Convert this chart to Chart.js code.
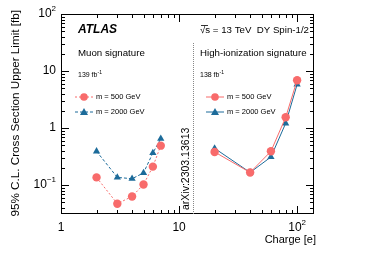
<!DOCTYPE html>
<html>
<head>
<meta charset="utf-8">
<script src="https://cdn.jsdelivr.net/npm/chart.js@4"></script>
<style>
  body { margin: 0; background: #fff; }
  canvas { display: block; }
</style>
</head>
<body>
<canvas id="limitChart" width="374" height="255"></canvas>
<script>
// data
const muonCharges = [2, 3, 4, 5, 6, 7];
const muon500 = [0.136, 0.047, 0.063, 0.102, 0.21, 0.49];
const muon2000 = [0.39, 0.136, 0.129, 0.163, 0.365, 0.65];
const hipCharges = [20, 40, 60, 80, 100];
const hip500 = [0.38, 0.166, 0.39, 1.54, 6.9];
const hip2000 = [0.44, 0.166, 0.31, 1.21, 5.8];
const xTicks = [1, 10, 100];
const yTicks = [0.1, 1, 10, 100];

const RED = '#f86b6b';
const BLUE = '#1c6b9a';
const FONT = '"Liberation Sans", Arial, sans-serif';

function pts(xs, ys) {
  return xs.map((x, i) => ({ x: x, y: ys[i] }));
}

function superLabel(ctx, base, exp, x, y, size, align) {
  ctx.font = size + 'px ' + FONT;
  const bw = ctx.measureText(base).width;
  ctx.font = Math.round(size * 0.7) + 'px ' + FONT;
  const ew = exp ? ctx.measureText(exp).width : 0;
  let x0 = x;
  if (align === 'right') x0 = x - bw - ew;
  else if (align === 'center') x0 = x - (bw + ew) / 2;
  ctx.textAlign = 'left';
  ctx.textBaseline = 'middle';
  ctx.font = size + 'px ' + FONT;
  ctx.fillText(base, x0, y);
  if (exp) {
    ctx.font = Math.round(size * 0.7) + 'px ' + FONT;
    ctx.fillText(exp, x0 + bw, y - size * 0.4);
  }
}

function legendRow(ctx, x, y, color, dash, style, text) {
  ctx.save();
  ctx.strokeStyle = color;
  ctx.lineWidth = 1;
  ctx.setLineDash(dash);
  ctx.beginPath();
  ctx.moveTo(x - 9, y);
  ctx.lineTo(x + 9, y);
  ctx.stroke();
  ctx.setLineDash([]);
  ctx.fillStyle = color;
  ctx.beginPath();
  if (style === 'circle') {
    ctx.arc(x, y, 3.8, 0, Math.PI * 2);
  } else {
    ctx.moveTo(x, y - 4);
    ctx.lineTo(x + 4, y + 3);
    ctx.lineTo(x - 4, y + 3);
    ctx.closePath();
  }
  ctx.fill();
  ctx.fillStyle = '#000';
  ctx.font = '7.5px ' + FONT;
  ctx.textAlign = 'left';
  ctx.textBaseline = 'middle';
  ctx.fillText(text, x + 12, y);
  ctx.restore();
}

const atlasDecor = {
  id: 'atlasDecor',
  afterDraw(chart) {
    const ctx = chart.ctx;
    const xs = chart.scales.x, ys = chart.scales.y;
    const a = chart.chartArea;
    ctx.save();
    // frame
    ctx.strokeStyle = '#000';
    ctx.lineWidth = 1;
    ctx.strokeRect(a.left + 0.5, a.top + 0.5, a.right - a.left - 1, a.bottom - a.top - 1);

    // inward log ticks
    for (let d = 0; d < 3; d++) {
      for (let m = 1; m < 10; m++) {
        const v = m * Math.pow(10, d);
        if (v < xs.min || v > xs.max) continue;
        const px = Math.round(xs.getPixelForValue(v)) + 0.5;
        const len = m === 1 ? 8 : 4;
        ctx.beginPath();
        ctx.moveTo(px, a.bottom); ctx.lineTo(px, a.bottom - len);
        ctx.moveTo(px, a.top); ctx.lineTo(px, a.top + len);
        ctx.stroke();
      }
    }
    for (let d = -2; d < 3; d++) {
      for (let m = 1; m < 10; m++) {
        const v = m * Math.pow(10, d);
        if (v < ys.min || v > ys.max) continue;
        const py = Math.round(ys.getPixelForValue(v)) + 0.5;
        const len = m === 1 ? 8 : 4;
        ctx.beginPath();
        ctx.moveTo(a.left, py); ctx.lineTo(a.left + len, py);
        ctx.moveTo(a.right, py); ctx.lineTo(a.right - len, py);
        ctx.stroke();
      }
    }

    // tick labels
    ctx.fillStyle = '#000';
    const xLab = { 1: ['1', ''], 10: ['10', ''], 100: ['10', '2'] };
    xTicks.forEach(v => {
      superLabel(ctx, xLab[v][0], xLab[v][1], xs.getPixelForValue(v), a.bottom + 14, 12, 'center');
    });
    const yLab = { 0.1: ['10', '\u22121'], 1: ['1', ''], 10: ['10', ''], 100: ['10', '2'] };
    yTicks.forEach(v => {
      superLabel(ctx, yLab[v][0], yLab[v][1], a.left - 5, ys.getPixelForValue(v), 12, 'right');
    });

    // axis titles
    ctx.font = '11px ' + FONT;
    ctx.textAlign = 'right';
    ctx.textBaseline = 'alphabetic';
    ctx.fillText('Charge [e]', a.right + 2, a.bottom + 29);
    ctx.save();
    ctx.translate(19, 10);
    ctx.rotate(-Math.PI / 2);
    ctx.font = '11.7px ' + FONT;
    ctx.textAlign = 'right';
    ctx.fillText('95% C.L. Cross Section Upper Limit [fb]', 0, 0);
    ctx.restore();

    // separator between the two signatures
    const sep = Math.round(xs.getPixelForValue(13)) + 0.5;
    ctx.save();
    ctx.strokeStyle = '#888';
    ctx.setLineDash([1, 1]);
    ctx.beginPath();
    ctx.moveTo(sep, a.top + 29);
    ctx.lineTo(sep, a.bottom);
    ctx.stroke();
    ctx.restore();
    ctx.save();
    ctx.translate(sep - 5, a.bottom - 4);
    ctx.rotate(-Math.PI / 2);
    ctx.font = '10.5px ' + FONT;
    ctx.textAlign = 'left';
    ctx.textBaseline = 'alphabetic';
    ctx.fillText('arXiv:2303.13613', 0, 0);
    ctx.restore();

    // labels inside the frame
    ctx.textAlign = 'left';
    ctx.textBaseline = 'middle';
    ctx.font = 'italic bold 12px ' + FONT;
    ctx.fillText('ATLAS', 78, 30);
    ctx.font = '9.7px ' + FONT;
    ctx.fillText('Muon signature', 78, 53);
    ctx.fillText('High-ionization signature', 200, 53);
    ctx.fillText('\u221As = 13 TeV  DY Spin-1/2', 200, 30);
    ctx.beginPath();
    ctx.moveTo(201, 25.5); ctx.lineTo(208, 25.5);
    ctx.lineWidth = 0.8;
    ctx.stroke();
    superLabel(ctx, '139 fb', '-1', 78, 75, 7, 'left');
    superLabel(ctx, '138 fb', '-1', 200, 75, 7, 'left');

    legendRow(ctx, 84, 97, RED, [2, 2], 'circle', 'm = 500 GeV');
    legendRow(ctx, 84, 112, BLUE, [3, 2], 'triangle', 'm = 2000 GeV');
    legendRow(ctx, 215, 97, RED, [], 'circle', 'm = 500 GeV');
    legendRow(ctx, 215, 112, BLUE, [], 'triangle', 'm = 2000 GeV');
    ctx.restore();
  }
};

function series(label, xs, ys, color, dash, style) {
  return {
    label: label,
    data: pts(xs, ys),
    borderColor: color,
    backgroundColor: color,
    borderWidth: 1,
    borderDash: dash,
    pointStyle: style,
    pointRadius: 4.2,
    pointBorderWidth: 0,
    showLine: true,
    tension: 0
  };
}

new Chart(document.getElementById('limitChart'), {
  type: 'scatter',
  data: {
    datasets: [
      series('Muon m = 500 GeV', muonCharges, muon500, RED, [2, 2], 'circle'),
      series('Muon m = 2000 GeV', muonCharges, muon2000, BLUE, [3, 2], 'triangle'),
      series('HIP m = 500 GeV', hipCharges, hip500, RED, [], 'circle'),
      series('HIP m = 2000 GeV', hipCharges, hip2000, BLUE, [], 'triangle')
    ]
  },
  options: {
    responsive: false,
    animation: false,
    layout: { padding: { left: 61, top: 14, right: 60, bottom: 41 } },
    plugins: { legend: { display: false }, tooltip: { enabled: false } },
    scales: {
      x: { type: 'logarithmic', min: 1, max: 139, display: false },
      y: { type: 'logarithmic', min: 0.031, max: 100, display: false }
    }
  },
  plugins: [atlasDecor]
});
</script>
</body>
</html>
